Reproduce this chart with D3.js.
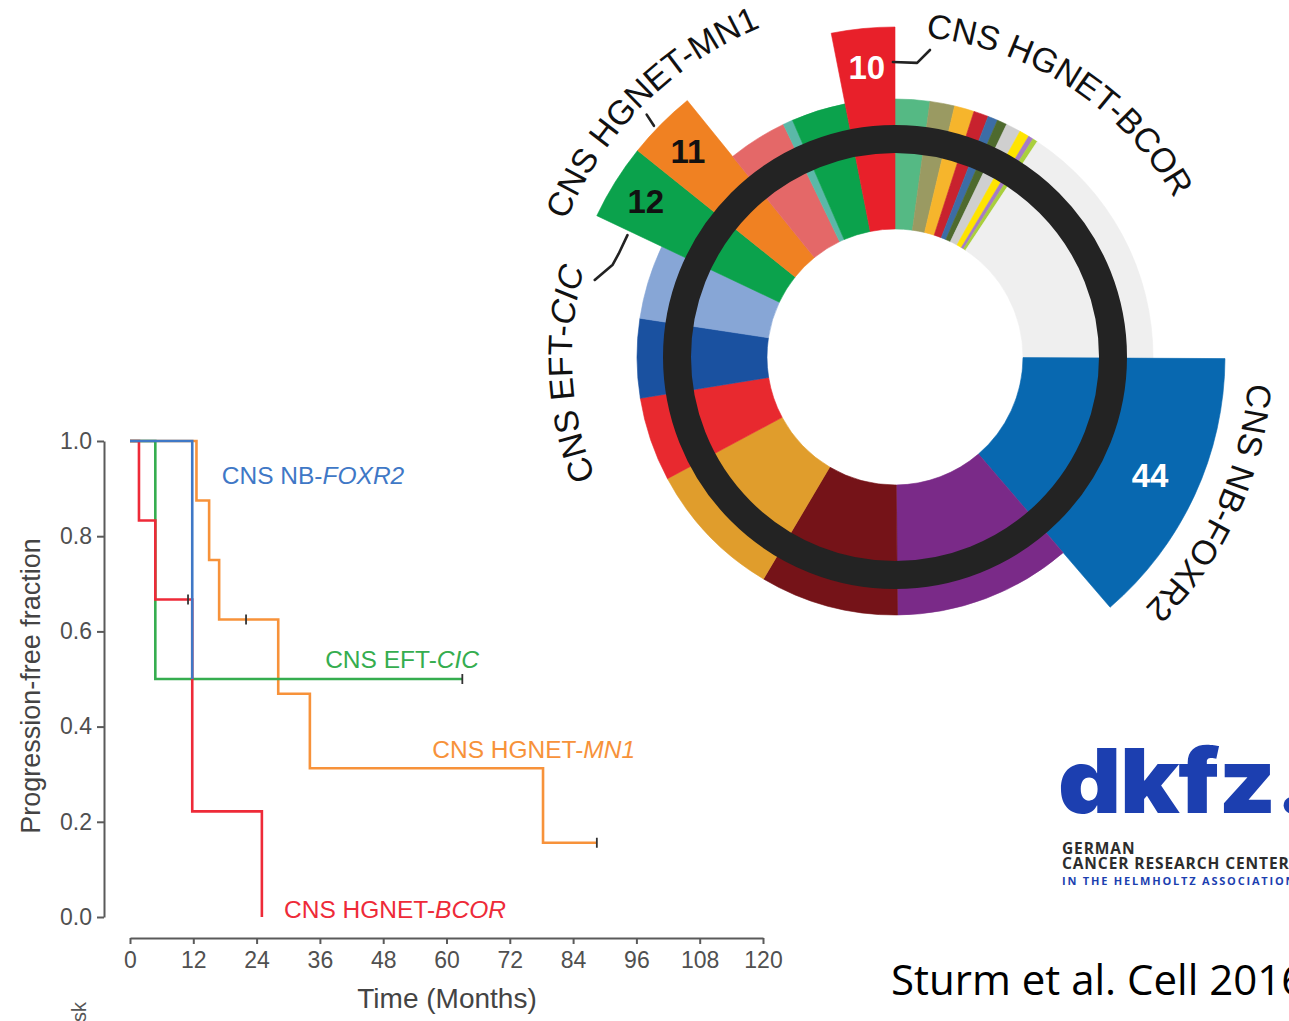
<!DOCTYPE html>
<html>
<head>
<meta charset="utf-8">
<script src="https://cdn.jsdelivr.net/npm/d3@7"></script>
<style>
  html, body { margin: 0; padding: 0; background: #fff; }
  svg { display: block; }
</style>
</head>
<body>
<svg id="fig" width="1289" height="1021"></svg>
<script>
// ---------- Kaplan-Meier data (months, progression-free fraction) ----------
const monthTicks = [0, 12, 24, 36, 48, 60, 72, 84, 96, 108, 120];
const fractionTicks = [0, 0.2, 0.4, 0.6, 0.8, 1.0];

const foxr2Months = [0, 11.8];
const foxr2Frac   = [1.0, 0.5];
const foxr2Censor = [];

const cicMonths = [0, 4.8, 63];
const cicFrac   = [1.0, 0.5, 0.5];
const cicCensor = [63];

const mn1Months = [0, 12.6, 15, 16.9, 28.1, 34.1, 78.3, 88.5];
const mn1Frac   = [1.0, 0.875, 0.75, 0.625, 0.469, 0.3125, 0.156, 0.156];
const mn1Censor = [22, 88.5];

const bcorMonths = [0, 1.7, 4.8, 11.8, 25];
const bcorFrac   = [1.0, 0.833, 0.667, 0.222, 0];
const bcorCensor = [11];

const kmNames   = ["CNS HGNET-MN1", "CNS EFT-CIC", "CNS HGNET-BCOR", "CNS NB-FOXR2"];
const kmColors  = ["#f7923a", "#35ad4f", "#ee2a38", "#3f78c6"];

// ---------- Sunburst ring data (case counts, clockwise from 12 o'clock) ----------
const ringCounts = [7, 5, 4, 3, 2, 2, 3, 2, 1, 1, 51, 44, 36, 28, 28, 17, 16, 15, 12, 11, 12, 2, 11, 10];
const ringColors = ["#55b984", "#9a9a62", "#f6b52c", "#c8222e", "#3c6da6", "#4e6a2e", "#cfcfcf", "#ffe400",
                    "#a57cc6", "#a9cf3c", "#efefef", "#0868b0", "#7a2a88", "#751318", "#e09d2c", "#e8292f",
                    "#1a51a0", "#87a6d6", "#0ba24c", "#f08122", "#e46868", "#5bb8a8", "#0ba24c", "#e8202a"];
const ringCallouts = ["", "", "", "", "", "", "", "", "", "", "", "CNS NB-FOXR2", "", "", "", "", "", "",
                      "CNS EFT-CIC", "CNS HGNET-MN1", "", "", "", "CNS HGNET-BCOR"];

const svg = d3.select("#fig");
const FONT = "'Liberation Sans', Arial, Helvetica, sans-serif";

// =================== Kaplan-Meier panel ===================
const x = d3.scaleLinear().domain([0, 120]).range([130, 763]);
const y = d3.scaleLinear().domain([0, 1]).range([917, 441]);

const axisColor = "#5a5a5a";
const yAxis = svg.append("g")
  .attr("transform", "translate(104,0)")
  .call(d3.axisLeft(y).tickValues(fractionTicks).tickFormat(d3.format(".1f"))
        .tickSize(7).tickSizeOuter(0).tickPadding(5));
const xAxis = svg.append("g")
  .attr("transform", "translate(0,938)")
  .call(d3.axisBottom(x).tickValues(monthTicks).tickFormat(d3.format("d"))
        .tickSize(6).tickSizeOuter(0).tickPadding(8));
[yAxis, xAxis].forEach(g => {
  g.selectAll("path, line").attr("stroke", axisColor).attr("stroke-width", 2);
  g.selectAll("text").attr("fill", "#505050").style("font-family", FONT).style("font-size", "23px");
});

svg.append("text")
  .attr("transform", "translate(40,686) rotate(-90)")
  .attr("text-anchor", "middle")
  .style("font-family", FONT).style("font-size", "27px").attr("fill", "#444")
  .text("Progression-free fraction");

svg.append("text")
  .attr("x", 447).attr("y", 1008)
  .attr("text-anchor", "middle")
  .style("font-family", FONT).style("font-size", "28px").attr("fill", "#444")
  .text("Time (Months)");

// partially visible risk-table heading at the bottom edge
svg.append("text")
  .attr("transform", "translate(86,1002) rotate(-90)")
  .attr("text-anchor", "end")
  .style("font-family", FONT).style("font-size", "20px").attr("fill", "#555")
  .text("At risk");

const kmData = [
  { months: mn1Months,   frac: mn1Frac,   censor: mn1Censor },
  { months: cicMonths,   frac: cicFrac,   censor: cicCensor },
  { months: bcorMonths,  frac: bcorFrac,  censor: bcorCensor },
  { months: foxr2Months, frac: foxr2Frac, censor: foxr2Censor }
].map((s, i) => ({
  name: kmNames[i], color: kmColors[i],
  pts: s.months.map((m, j) => [m, s.frac[j]]),
  censor: s.censor
}));

const step = d3.line().x(d => x(d[0])).y(d => y(d[1])).curve(d3.curveStepAfter);

// survival value at time t for a step curve
function survAt(pts, t) {
  let v = pts[0][1];
  for (const p of pts) { if (p[0] <= t) v = p[1]; }
  return v;
}

kmData.forEach(s => {
  svg.append("path")
    .attr("d", step(s.pts))
    .attr("fill", "none")
    .attr("stroke", s.color)
    .attr("stroke-width", 2.6);
});
kmData.forEach(s => {
  s.censor.forEach(t => {
    const cx = x(t), cy = y(survAt(s.pts, t));
    svg.append("line")
      .attr("x1", cx).attr("x2", cx).attr("y1", cy - 5).attr("y2", cy + 5)
      .attr("stroke", "#333").attr("stroke-width", 1.8);
  });
});

// curve labels: upright prefix + italic gene name
const kmLabelAt = {
  "CNS NB-FOXR2":   [17.4, 0.91],
  "CNS EFT-CIC":    [37.0, 0.523],
  "CNS HGNET-MN1":  [57.3, 0.334],
  "CNS HGNET-BCOR": [29.2, -0.002]
};
kmData.forEach(s => {
  const cut = s.name.lastIndexOf("-") + 1;
  const pos = kmLabelAt[s.name];
  const t = svg.append("text")
    .attr("x", x(pos[0])).attr("y", y(pos[1]))
    .style("font-family", FONT).style("font-size", "24.5px")
    .attr("fill", s.color);
  t.append("tspan").text(s.name.slice(0, cut));
  t.append("tspan").style("font-style", "italic").text(s.name.slice(cut));
});

// =================== Sunburst ring ===================
const ring = svg.append("g").attr("transform", "translate(895,357)");
const rInner = 128, rOuter = 258, rCallout = 330;
const deg = Math.PI / 180;

const ringData = ringCounts.map((c, i) => ({ count: c, color: ringColors[i], callout: ringCallouts[i] }));
const pie = d3.pie().value(d => d.count).sort(null);
const slices = pie(ringData);

const arc = d3.arc()
  .innerRadius(rInner)
  .outerRadius(d => d.data.callout ? rCallout : rOuter);

ring.selectAll("path.slice")
  .data(slices)
  .join("path")
  .attr("class", "slice")
  .attr("d", arc)
  .attr("fill", d => d.data.color)
  .attr("stroke", d => d.data.color)
  .attr("stroke-width", 0.6);

// dark band across the ring
ring.append("circle")
  .attr("r", 218)
  .attr("fill", "none")
  .attr("stroke", "#232323")
  .attr("stroke-width", 28);

// case counts on the extended wedges
const countStyle = {
  "CNS NB-FOXR2":   { fill: "#fff", r: 281 },
  "CNS HGNET-BCOR": { fill: "#fff", r: 291 },
  "CNS EFT-CIC":    { fill: "#111", r: 294 },
  "CNS HGNET-MN1":  { fill: "#111", r: 292 }
};
ring.selectAll("text.count")
  .data(slices.filter(d => d.data.callout))
  .join("text")
  .attr("class", "count")
  .attr("transform", d => {
    const r = countStyle[d.data.callout].r;
    return `translate(${d3.arc().innerRadius(r).outerRadius(r).centroid(d)})`;
  })
  .attr("text-anchor", "middle")
  .attr("dy", "0.36em")
  .style("font-family", FONT).style("font-size", "33px").style("font-weight", "bold")
  .attr("fill", d => countStyle[d.data.callout].fill)
  .text(d => d.data.count);

// curved group names (centre angle in degrees clockwise from top, baseline radius)
const calloutText = {
  "CNS HGNET-BCOR": { mid: 33,    r: 321 },
  "CNS HGNET-MN1":  { mid: 315.2, r: 356 },
  "CNS EFT-CIC":    { mid: 267,   r: 323 },
  "CNS NB-FOXR2":   { mid: 114.7, r: 354 }
};
const polar = (a, r) => [r * Math.sin(a * deg), -r * Math.cos(a * deg)];
const defs = svg.append("defs");
Object.entries(calloutText).forEach(([name, c], i) => {
  const p0 = polar(c.mid - 89, c.r), p1 = polar(c.mid + 89, c.r);
  defs.append("path")
    .attr("id", "callout-path-" + i)
    .attr("d", `M${p0[0]},${p0[1]} A${c.r},${c.r} 0 0 1 ${p1[0]},${p1[1]}`);
  const cut = name.lastIndexOf("-") + 1;
  const tp = ring.append("text")
    .style("font-family", FONT).style("font-size", "34px")
    .attr("fill", "#111")
    .append("textPath")
    .attr("href", "#callout-path-" + i)
    .attr("startOffset", "50%")
    .attr("text-anchor", "middle");
  tp.append("tspan").text(name.slice(0, cut));
  tp.append("tspan").style("font-style", name === "CNS EFT-CIC" ? "italic" : "normal").text(name.slice(cut));
});

// leader lines (angle in degrees, radius)
const leaders = [
  [[359.6, 295], [4.3, 295], [6.5, 309]],
  [[313.8, 334], [314.3, 347]],
  [[294.5, 294], [290.5, 295], [288.1, 297], [284.4, 310]]
];
const leaderLine = d3.line().curve(d3.curveLinear);
leaders.forEach(l => {
  ring.append("path")
    .attr("d", leaderLine(l.map(p => polar(p[0], p[1]))))
    .attr("fill", "none")
    .attr("stroke", "#222")
    .attr("stroke-width", 2.6)
    .attr("stroke-linejoin", "round")
    .attr("stroke-linecap", "round");
});

// =================== Institute logo and citation ===================
const logo = svg.append("g");
logo.append("text")
  .attr("transform", "translate(1058,813) scale(1.1,1)")
  .style("font-family", "Inter, 'Open Sans', sans-serif").style("font-weight", 900)
  .style("font-size", "89px").style("letter-spacing", "-1px")
  .attr("fill", "#1c3fb0")
  .text("dkfz.");
logo.append("text")
  .attr("x", 1062).attr("y", 854)
  .style("font-family", "'Open Sans', sans-serif").style("font-weight", 700)
  .style("font-size", "15.5px").style("letter-spacing", "0.9px").attr("fill", "#2d2d2d")
  .text("GERMAN");
logo.append("text")
  .attr("x", 1062).attr("y", 869)
  .style("font-family", "'Open Sans', sans-serif").style("font-weight", 700)
  .style("font-size", "15.5px").style("letter-spacing", "0.9px").attr("fill", "#2d2d2d")
  .text("CANCER RESEARCH CENTER");
logo.append("text")
  .attr("x", 1062).attr("y", 885)
  .style("font-family", "'Open Sans', sans-serif").style("font-weight", 700)
  .style("font-size", "11px").style("letter-spacing", "1.8px")
  .attr("fill", "#1c3fb0")
  .text("IN THE HELMHOLTZ ASSOCIATION");

svg.append("text")
  .attr("x", 891).attr("y", 995)
  .style("font-family", "'Open Sans', sans-serif")
  .style("font-size", "42px").attr("fill", "#000")
  .text("Sturm et al. Cell 2016");
</script>
</body>
</html>
